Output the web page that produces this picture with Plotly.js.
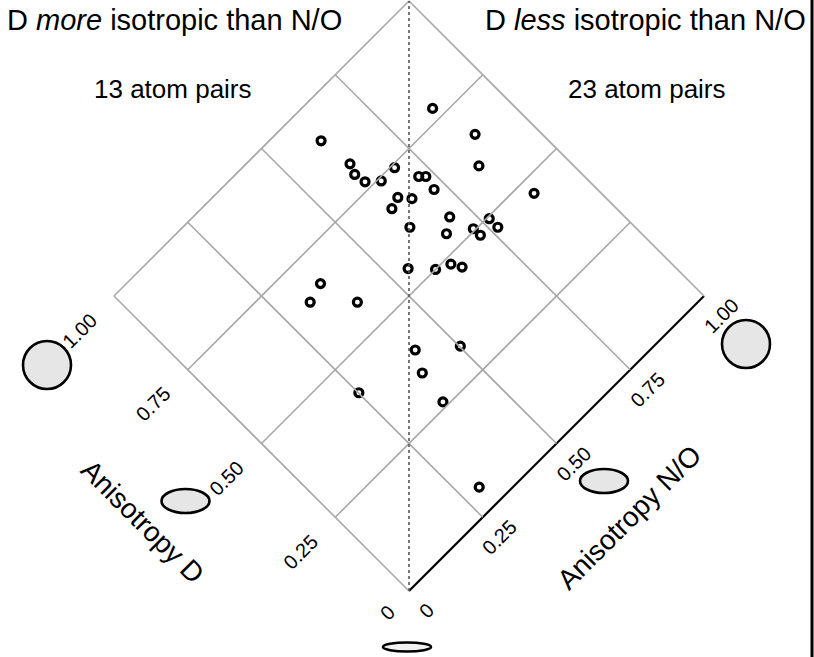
<!DOCTYPE html>
<html>
<head>
<meta charset="utf-8">
<script src="https://cdn.plot.ly/plotly-3.0.1.min.js"></script>
<style>
  html, body { margin: 0; padding: 0; background: #fff; }
  #plot { width: 814px; height: 657px; }
</style>
</head>
<body>
<div id="plot"></div>
<script>
// anisotropy values of each atom pair
var anisoD = [0.778, 0.912, 0.662, 0.602, 0.824, 0.798, 0.768, 0.742, 0.742, 0.686,
              0.674, 0.638, 0.686, 0.660, 0.677, 0.462, 0.565, 0.615, 0.542, 0.505,
              0.495, 0.466, 0.482, 0.548, 0.500, 0.483, 0.459, 0.671, 0.657, 0.577,
              0.398, 0.328, 0.347, 0.421, 0.263, 0.057];
var anisoNO = [0.858, 0.614, 0.886, 0.839, 0.624, 0.614, 0.619, 0.648, 0.693, 0.719,
               0.731, 0.723, 0.648, 0.670, 0.619, 0.886, 0.703, 0.618, 0.669, 0.723,
               0.767, 0.767, 0.724, 0.545, 0.590, 0.625, 0.639, 0.371, 0.322, 0.402,
               0.419, 0.502, 0.392, 0.251, 0.378, 0.295];

var tickVals = [0, 0.25, 0.5, 0.75, 1];
var tickText = ['0', '0.25', '0.50', '0.75', '1.00'];

var FONT = 'Liberation Sans, Arial, Helvetica, sans-serif';

// diamond: bottom corner at pixel (409,591), one unit = 295px along each screen axis
var OX = 409, OY = 591, U = 295, W = 814, H = 657;
function px2x(px) { return (px - OX) / U; }
function px2y(py) { return (OY - py) / U; }
// rotate (D, N/O) into screen-aligned coordinates
function rx(d, n) { return n - d; }
function ry(d, n) { return n + d; }

var xs = [], ys = [];
for (var i = 0; i < anisoD.length; i++) {
  xs.push(rx(anisoD[i], anisoNO[i]));
  ys.push(ry(anisoD[i], anisoNO[i]));
}

var shapes = [];
// grid
for (var k = 0; k < tickVals.length; k++) {
  var v = tickVals[k];
  shapes.push({type: 'line', xref: 'x', yref: 'y',
    x0: rx(v, 0), y0: ry(v, 0), x1: rx(v, 1), y1: ry(v, 1),
    line: {color: v == 0 ? '#000' : '#a8a8a8', width: v == 0 ? 2.2 : 1.6}});
  shapes.push({type: 'line', xref: 'x', yref: 'y',
    x0: rx(0, v), y0: ry(0, v), x1: rx(1, v), y1: ry(1, v),
    line: {color: '#a8a8a8', width: 1.6}});
}
// diagonal D == N/O
shapes.push({type: 'line', xref: 'x', yref: 'y',
  x0: rx(0, 0), y0: ry(0, 0), x1: rx(1, 1), y1: ry(1, 1),
  line: {color: '#555', width: 1.6, dash: 'dot'}});
// right border of the figure
shapes.push({type: 'line', xref: 'paper', yref: 'paper',
  x0: 812 / W, x1: 812 / W, y0: 0, y1: 1, line: {color: '#000', width: 3}});

// ellipse glyphs: anisotropy = minor / major
var glyphAniso = [1, 0.5, 1, 0.5, 0];
var glyphCx = [47, 185.5, 746, 604, 407];
var glyphCy = [365, 501, 344, 481, 647];
for (var g = 0; g < glyphAniso.length; g++) {
  var w2 = 24, h2 = Math.max(24 * glyphAniso[g], 4.5);
  shapes.push({type: 'circle', xref: 'x', yref: 'y',
    x0: px2x(glyphCx[g] - w2), x1: px2x(glyphCx[g] + w2),
    y0: px2y(glyphCy[g] + h2), y1: px2y(glyphCy[g] - h2),
    fillcolor: glyphAniso[g] == 0 ? '#f2f2f2' : '#e6e6e6',
    line: {color: '#000', width: 2.6}});
}

var ann = [];
function txt(t, px, py, size, angle, extra) {
  var a = {text: t, x: px2x(px), y: px2y(py), xref: 'x', yref: 'y',
    showarrow: false, textangle: angle || 0,
    font: {family: FONT, size: size, color: '#000'}};
  for (var key in extra) a[key] = extra[key];
  ann.push(a);
}
txt('D <i>more</i> isotropic than N/O', 174, 20, 29);
txt('D <i>less</i> isotropic than N/O', 808, 20, 29, 0, {xanchor: 'right'});
txt('13 atom pairs', 173, 89, 26);
txt('23 atom pairs', 647, 89, 26);
txt('Anisotropy D', 142.5, 521, 28, 45);
txt('Anisotropy N/O', 629, 517, 28, -45);

// tick labels on both axes
for (var t = 0; t < tickVals.length; t++) {
  var val = tickVals[t];
  var dist = 25 + 6 * tickText[t].length;
  ann.push({text: tickText[t], x: rx(val, 0), y: ry(val, 0), xref: 'x', yref: 'y',
    showarrow: false, textangle: -45,
    xshift: -dist / Math.SQRT2, yshift: -dist / Math.SQRT2,
    font: {family: FONT, size: 20, color: '#000'}});
  ann.push({text: tickText[t], x: rx(0, val), y: ry(0, val), xref: 'x', yref: 'y',
    showarrow: false, textangle: -45, xshift: 17, yshift: -20,
    font: {family: FONT, size: 20, color: '#000'}});
}

var trace = {
  x: xs, y: ys, type: 'scatter', mode: 'markers',
  marker: {symbol: 'circle-open', size: 8, color: '#000', line: {width: 3.2, color: '#000'}},
  hoverinfo: 'skip'
};

var layout = {
  width: W, height: H,
  margin: {l: 0, r: 0, t: 0, b: 0},
  paper_bgcolor: '#fff', plot_bgcolor: '#fff',
  showlegend: false,
  xaxis: {range: [px2x(0), px2x(W)], visible: false, fixedrange: true},
  yaxis: {range: [px2y(H), px2y(0)], visible: false, fixedrange: true},
  shapes: shapes,
  annotations: ann
};

Plotly.newPlot('plot', [trace], layout, {staticPlot: true});
</script>
</body>
</html>
